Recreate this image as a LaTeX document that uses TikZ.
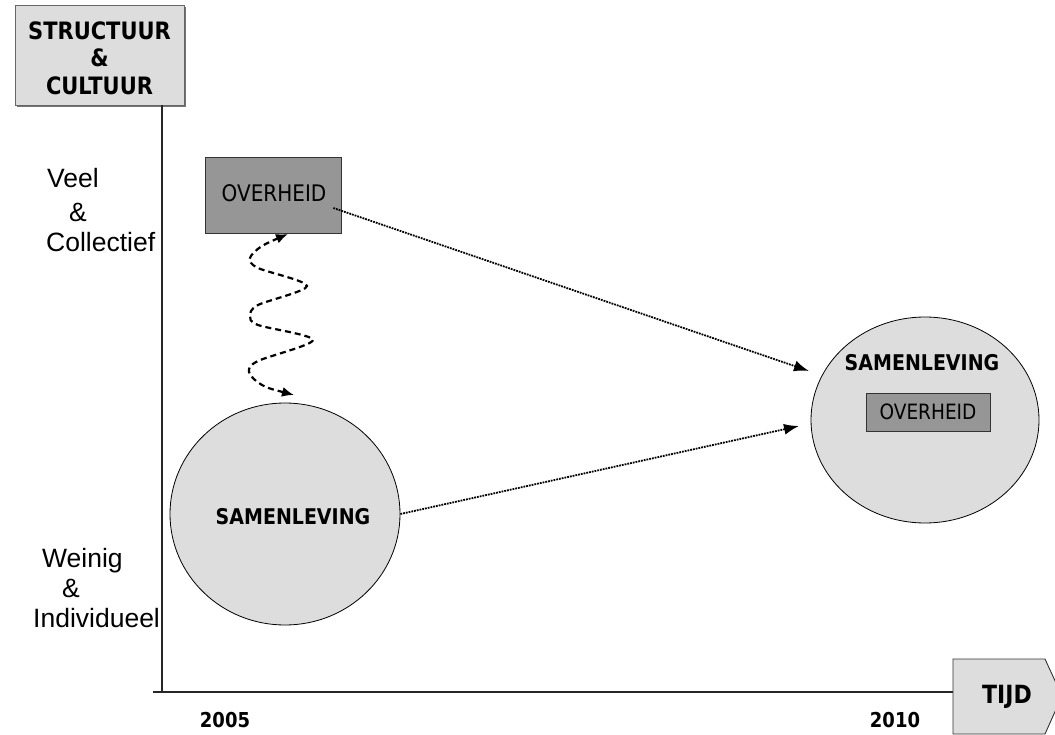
\documentclass[tikz,border=0pt]{standalone}
\usepackage{fontspec}
\setmainfont{DejaVu Sans}
\newfontfamily\arialfont{Liberation Sans}
\usetikzlibrary{arrows.meta,shapes.geometric}
\definecolor{lgray}{HTML}{DDDDDD}
\definecolor{dgray}{HTML}{969696}
\newcommand{\tall}[1]{\scalebox{1}[1.14]{#1}}
\begin{document}
\begin{tikzpicture}[x=1pt,y=-1pt,
  hdrbox/.style={draw=black!60,fill=lgray,line width=0.8pt,inner sep=0pt},
  govbox/.style={draw=black!80,fill=dgray,line width=0.8pt,inner sep=0pt},
  society/.style={ellipse,draw=black,fill=lgray,line width=0.8pt,inner sep=0pt},
  boldlbl/.style={font=\bfseries\fontsize{19}{23}\selectfont,inner sep=0pt},
  sidelbl/.style={font=\arialfont\fontsize{26.5}{30}\selectfont,anchor=base west,inner sep=0pt},
  axisline/.style={draw=black!85,line width=1.1pt},
  dotarrow/.style={densely dotted,line width=1.8pt,-{Latex[length=15pt,width=11pt]}},
  wavyarrow/.style={dash pattern=on 6pt off 4pt,line width=2.2pt,{Latex[length=12pt,width=10pt]}-{Latex[length=12pt,width=10pt]}}
]
\useasboundingbox (0,0) rectangle (1055,735);

% header box
\fill[black!55] (17,7) rectangle (186,107);
\node[hdrbox,minimum width=169pt,minimum height=100pt] (hdr) at (99.5,55) {};
\node[font=\bfseries\fontsize{21}{27.5}\selectfont,align=center,inner sep=0pt] (hdrtxt) at (99.5,58) {\tall{STRUCTUUR}\\\tall{\&}\\\tall{CULTUUR}};

% axes
\coordinate (ytop) at (162,105);
\coordinate (origin) at (162,692);
\coordinate (xleft) at (153,692);
\draw[axisline] (hdr.south -| ytop) -- (origin);
\draw[axisline] (xleft) -- (953,692) coordinate (xright);

% TIJD pentagon
\draw[draw=black!80,fill=lgray,line width=0.9pt] (953,659) -- (1045,659) -- (1062,696) -- (1045,734) -- (953,734) -- cycle;
\node[font=\bfseries\fontsize{22}{26}\selectfont,inner sep=0pt] (tijd) at (1007,697) {\tall{TIJD}};

% years
\node[font=\bfseries\fontsize{18}{22}\selectfont,inner sep=0pt] (y2005) at (225,720) {\tall{2005}};
\node[font=\bfseries\fontsize{18}{22}\selectfont,inner sep=0pt] (y2010) at (895,720) {\tall{2010}};

% side labels
\node[sidelbl] (veel) at (47,188) {Veel};
\node[sidelbl] (amp1) at (69,222) {\&};
\node[sidelbl] (coll) at (46,252) {Collectief};
\node[sidelbl] (wein) at (42,567) {Weinig};
\node[sidelbl] (amp2) at (62,597) {\&};
\node[sidelbl] (indi) at (33,627) {Individueel};

% overheid 2005
\node[govbox,minimum width=136pt,minimum height=76pt] (ov) at (273,195) {};
\node[font=\fontsize{20}{24}\selectfont,inner sep=0pt] (ovtxt) at (274,193) {\tall{OVERHEID}};

% samenleving 2005
\node[society,minimum width=230pt,minimum height=222pt] (sl) at (285,514) {};
\node[boldlbl] (sltxt) at (293,517) {\tall{SAMENLEVING}};

% samenleving 2010
\node[society,minimum width=228pt,minimum height=206pt] (sr) at (925,420) {};
\node[boldlbl] (srtxt) at (922,363) {\tall{SAMENLEVING}};
\node[govbox,minimum width=124pt,minimum height=38pt] (ov2) at (928,412) {};
\node[font=\fontsize{18.5}{22}\selectfont,inner sep=0pt] (ov2txt) at (928,412) {\tall{OVERHEID}};

% dotted arrows
\coordinate (e1) at (809,371);
\coordinate (e2) at (799,426);
\draw[dotarrow] ([xshift=-8pt,yshift=-13pt]ov.east) -- (e1);
\draw[dotarrow] (sl.east) -- (e2);

% wavy dashed double arrow
\coordinate (wb) at (294,395);
\coordinate (wt) at (288,234);
\draw[wavyarrow] plot[smooth,tension=0.5] coordinates {(wb) (262,385) (249,372) (258,361) (313,340) (258,325) (250,316) (258,305) (307,286) (258,268) (250,258) (262,246) (wt)};
\end{tikzpicture}
\end{document}
